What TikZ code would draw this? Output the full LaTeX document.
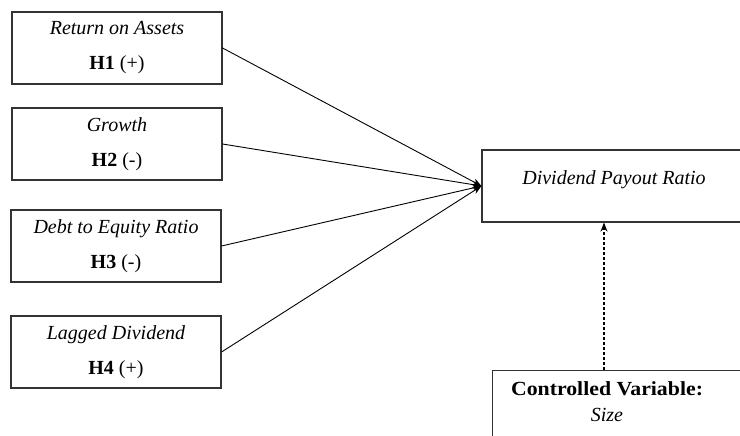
\documentclass[tikz,border=0pt]{standalone}
\usepackage{fontspec}
\setmainfont{Liberation Serif}
\usetikzlibrary{arrows.meta}
\begin{document}
\begin{tikzpicture}[x=1pt,y=-1pt,>={Stealth[length=9pt,width=7pt]},
    font=\fontsize{20}{24}\selectfont,
    var/.style={rectangle,draw=black!80,line width=1.1pt,minimum width=210pt,minimum height=72pt,align=center,inner sep=0pt}]
  \useasboundingbox (0,0) rectangle (740,436);
  \clip (0,0) rectangle (740,436);
  % independent variables
  \node[var] (roa) at (117,48) {\textit{Return on Assets}\\[11pt]\textbf{H1} (+)};
  \node[var] (grw) at (117,144) {\textit{Growth}\\[11pt]\textbf{H2} (-)};
  \node[var] (der) at (116,246) {\textit{Debt to Equity Ratio}\\[11pt]\textbf{H3} (-)};
  \node[var] (lag) at (116,352) {\textit{Lagged Dividend}\\[11pt]\textbf{H4} (+)};
  % dependent variable
  \node[var,minimum width=264pt,text height=14pt,text depth=17pt] (dpr) at (614,186) {\textit{Dividend Payout Ratio}};
  % control variable
  \node[var,minimum width=270pt,minimum height=90pt,anchor=north west] (ctrl) at (492,370) {};
  \node[align=center] (size) at (607,402) {\textbf{\addfontfeature{FakeStretch=1.09}Controlled Variable:}\\[2pt]\textit{Size}};
  \coordinate (cv) at (604,370);
  % arrows
  \draw[->,line width=0.9pt] (roa.east) -- (dpr.west);
  \draw[->,line width=0.9pt] (grw.east) -- (dpr.west);
  \draw[->,line width=0.9pt] (der.east) -- (dpr.west);
  \draw[->,line width=0.9pt] (lag.east) -- (dpr.west);
  \draw[->,densely dashed,line width=1.5pt] (cv) -- (cv |- dpr.south);
\end{tikzpicture}
\end{document}
